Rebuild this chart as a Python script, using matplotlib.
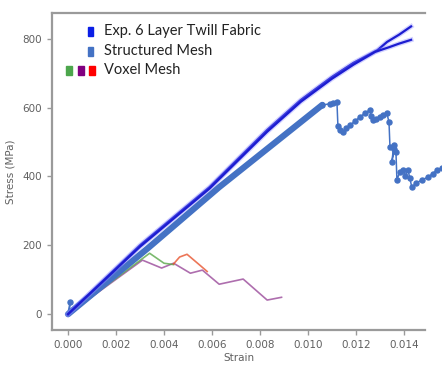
import numpy as np
import matplotlib.pyplot as plt
from matplotlib.patches import Rectangle

# Experimental curves (strain, stress MPa) - two specimens
exp_a_strain = [0.0, 0.0030, 0.0059, 0.0083, 0.0097, 0.0110, 0.0119, 0.0129, 0.0133, 0.0138, 0.0143]
exp_a_stress = [0, 200, 369, 535, 622, 689, 730, 767, 791, 812, 836]
exp_b_strain = [0.0, 0.0030, 0.0059, 0.0083, 0.0097, 0.0110, 0.0119, 0.0128, 0.0134, 0.0138, 0.0143]
exp_b_stress = [0, 196, 365, 530, 617, 684, 725, 762, 776, 786, 797]

# Structured mesh, linear part then damage part
struct_lin_strain = [0.0, 0.0033, 0.0063, 0.0106]
struct_lin_stress = [0, 190, 369, 608]
struct_dmg_strain = [0.0106, 0.01092, 0.01105, 0.01121, 0.01125, 0.01135, 0.01146, 0.01160, 0.01175,
                     0.01195, 0.01217, 0.01240, 0.01258, 0.01265, 0.01271, 0.01285, 0.01300, 0.01315,
                     0.01329, 0.01338, 0.01342, 0.01358, 0.01350, 0.01360, 0.01367, 0.01371, 0.01383,
                     0.01395, 0.01405, 0.01417, 0.01425, 0.01433, 0.01450, 0.01475, 0.01500, 0.01520,
                     0.01538, 0.01558]
struct_dmg_stress = [608, 611, 614, 616, 547, 535, 529, 540, 549, 560, 573, 585, 593, 575, 564, 566, 573,
                     578, 584, 558, 486, 491, 442, 480, 471, 390, 413, 420, 402, 419, 395, 369, 380, 390,
                     398, 408, 419, 424]
struct_spike_strain = [0.0, 0.0001]
struct_spike_stress = [0, 35]

# Voxel mesh curves
vox_green_strain = [0.0, 0.0034, 0.0040, 0.0044]
vox_green_stress = [0, 177, 148, 144]
vox_purple_strain = [0.0, 0.0031, 0.0039, 0.0044, 0.0051, 0.0056, 0.0063, 0.0073, 0.0083, 0.0089]
vox_purple_stress = [0, 157, 134, 148, 119, 128, 87, 102, 41, 49]
vox_red_strain = [0.0044, 0.00465, 0.00496, 0.0055, 0.0058]
vox_red_stress = [146, 166, 174, 142, 124]

legend_labels = ["Exp. 6 Layer Twill Fabric", "Structured Mesh", "Voxel Mesh"]

fig = plt.figure(figsize=(4.42, 3.70), dpi=100)
ax = fig.add_axes([0.1176, 0.1081, 0.8439, 0.8568])

ax.plot(vox_purple_strain, vox_purple_stress, color="#9a4a9a", lw=1.2, alpha=0.8, clip_on=False)
ax.plot(vox_green_strain, vox_green_stress, color="#5aa84a", lw=1.2, alpha=0.8, clip_on=False)
ax.plot(vox_red_strain, vox_red_stress, color="#e8542e", lw=1.2, alpha=0.8, clip_on=False)

blue_s = "#4472c4"
ax.plot(struct_lin_strain, struct_lin_stress, color=blue_s, lw=4.5, solid_capstyle="round", clip_on=False)
ax.plot(struct_dmg_strain, struct_dmg_stress, color=blue_s, lw=1.1, marker="o", ms=3.6,
        mec=blue_s, mfc=blue_s, clip_on=False)
ax.plot(struct_spike_strain, struct_spike_stress, color=blue_s, lw=1.5, marker="o", ms=3.6,
        markevery=[1], clip_on=False)

blue_e = "#1c1cd0"
for xs, ys in [(exp_a_strain, exp_a_stress), (exp_b_strain, exp_b_stress)]:
    ax.plot(xs, ys, color="#8080ff", lw=3.5, alpha=0.35, clip_on=False)
    ax.plot(xs, ys, color=blue_e, lw=1.6, clip_on=False)

ax.set_xlim(-0.00067, 0.01488)
ax.set_ylim(-46, 875)
ax.set_xticks(np.arange(0, 0.0141, 0.002))
ax.set_xticklabels(["%.3f" % t for t in np.arange(0, 0.0141, 0.002)])
ax.set_yticks([0, 200, 400, 600, 800])

grey = "#9a9a9a"
for side in ["left", "bottom", "top"]:
    ax.spines[side].set_color(grey)
    ax.spines[side].set_linewidth(1.6)
ax.spines["right"].set_visible(False)
ax.tick_params(colors=grey, labelcolor="#606060", labelsize=7.5, length=3.5, width=1.0)
ax.set_xlabel("Strain", fontsize=7.5, color="#606060", labelpad=2)
ax.set_ylabel("Stress (MPa)", fontsize=7.5, color="#606060", labelpad=5)

# legend drawn as coloured squares and text
leg_font = dict(family=["Lato", "DejaVu Sans"], fontsize=10.5, color="#222222", va="center", ha="left")
rows_y = [1 - 31 / 370, 1 - 51 / 370, 1 - 70 / 370]
tx = 104 / 442
sw, sh = 5 / 442, 9 / 370
fig.patches.append(Rectangle((88 / 442, rows_y[0] - sh / 2), sw, sh, transform=fig.transFigure,
                             color="#0a1ee6", figure=fig))
fig.patches.append(Rectangle((88 / 442, rows_y[1] - sh / 2), sw, sh, transform=fig.transFigure,
                             color=blue_s, figure=fig))
for x0, c in [(66, "#4ca64c"), (78, "#800080"), (89, "#ff0000")]:
    fig.patches.append(Rectangle((x0 / 442, rows_y[2] - sh / 2), 6 / 442, sh, transform=fig.transFigure,
                                 color=c, figure=fig))
for y, lab in zip(rows_y, legend_labels):
    fig.text(tx, y, lab, **leg_font)

fig.savefig("out.png", dpi=100)
